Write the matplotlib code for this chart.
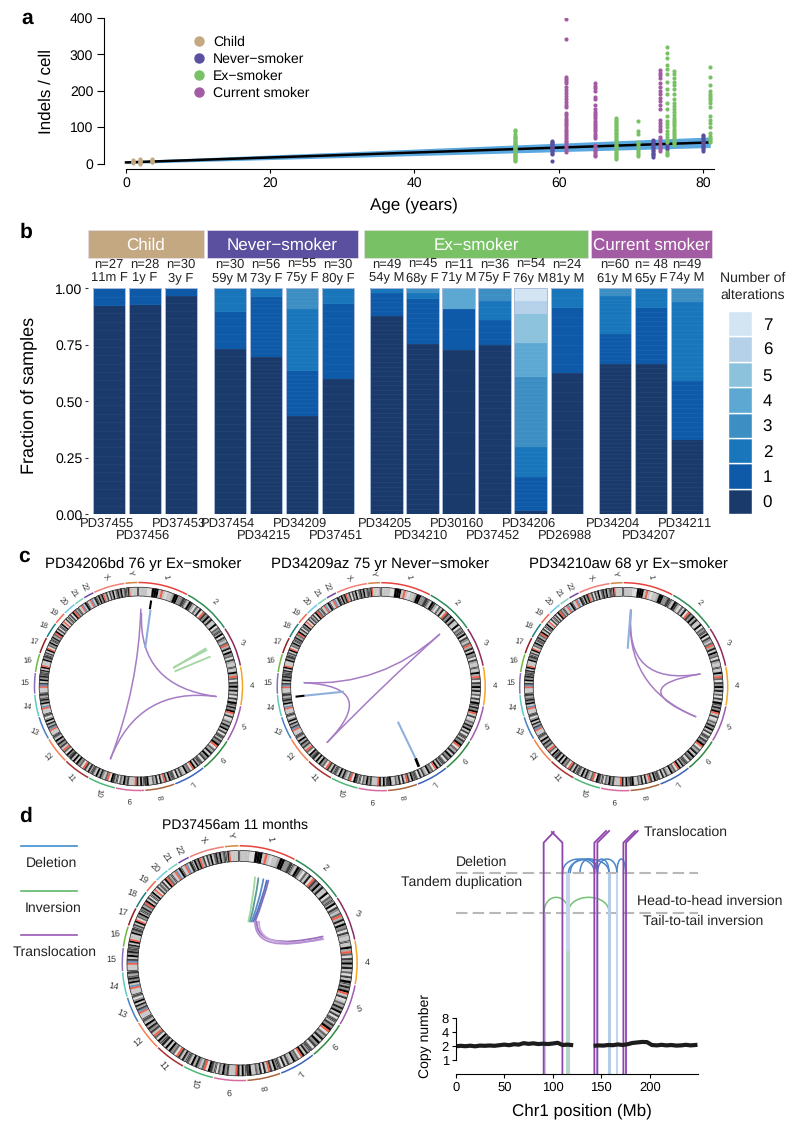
import math
import matplotlib
matplotlib.use("Agg")
import matplotlib.pyplot as plt
from matplotlib.lines import Line2D
from matplotlib.patches import Wedge, Rectangle, PathPatch, Arc
from matplotlib.path import Path
from matplotlib.collections import PatchCollection

plt.rcParams['font.family'] = ['Liberation Sans', 'DejaVu Sans']
plt.rcParams['text.hinting'] = 'none'
plt.rcParams['text.hinting_factor'] = 1
W, H = 800, 1133
fig = plt.figure(figsize=(8, 11.33), dpi=100)

C_CHILD, C_NEVER, C_EX, C_CUR = '#C4A882', '#5B50A0', '#78C265', '#A35BA3'

# ---------- panel a data
child_ages = [0.92, 1.95, 3.6]
child_vals = [[1, 3, 5, 7, 9], [0, 2, 4, 6, 8, 10, 12], [3, 5, 7, 9, 11]]
never_ages = [59, 73, 75, 80]
never_vals = [[7, 26, 30, 33, 36, 39, 42, 45, 48, 51, 54, 57, 60, 63],
              [18, 22, 26, 30, 34, 38, 42, 46, 50, 54, 58, 62, 65],
              [40, 46, 52, 58],
              [35, 39, 43, 47, 51, 55, 59, 63, 67, 71, 75, 79]]
ex_ages = [54, 68, 71, 75, 76, 81]
ex_vals = [[6, 9, 12, 15, 18, 21, 24, 27, 30, 33, 36, 39, 42, 45, 48, 51, 54, 57, 60, 63, 66, 69, 72, 76, 82, 88, 93],
           [12, 16, 20, 24, 28, 32, 36, 40, 44, 48, 52, 56, 60, 64, 68, 72, 76, 80, 84, 88, 92, 96, 100, 104, 108, 112, 116, 120, 125],
           [20, 26, 32, 38, 44, 50, 56, 60, 82, 88, 118],
           [22, 26, 32, 58, 64, 72, 80, 90, 100, 108, 116, 130, 150, 165, 190, 205, 225, 245, 260, 272, 290, 305, 320],
           [50, 55, 60, 66, 72, 78, 84, 90, 96, 102, 108, 114, 120, 126, 132, 142, 150, 158, 165, 178, 190, 205, 215, 225, 235, 245, 255],
           [58, 62, 66, 70, 75, 85, 100, 110, 120, 130, 155, 165, 175, 180, 185, 190, 198, 215, 238, 264]]
cur_ages = [61, 65, 74]
cur_vals = [[32, 36, 45, 52, 58, 63, 66, 72, 78, 84, 90, 96, 102, 108, 114, 120, 126, 132, 140, 156, 162, 170, 178, 186, 194, 202, 210, 220, 226, 232, 238, 343, 397],
            [20, 24, 28, 33, 38, 44, 50, 70, 75, 82, 88, 94, 100, 106, 112, 118, 124, 130, 136, 142, 150, 160, 178, 182, 200, 208, 214, 220],
            [35, 40, 46, 52, 58, 66, 72, 88, 96, 104, 112, 120, 150, 160, 172, 180, 190, 200, 210, 222, 235, 243, 250, 256]]
fit_age = [0, 81]
fit_mid = [3, 58]
fit_low = [0, 44]
fit_high = [7, 73]
a_groups = ['Child', 'Never\u2212smoker', 'Ex\u2212smoker', 'Current smoker']

# ---------- panel b data
facet_names = ['Child', 'Never\u2212smoker', 'Ex\u2212smoker', 'Current smoker']
facet_colors = [C_CHILD, C_NEVER, C_EX, C_CUR]
facet_n = [[27, 28, 30], [30, 56, 55, 30], [49, 45, 11, 36, 54, 24], [60, 48, 49]]
facet_n_text = [['n=27', 'n=28', 'n=30'], ['n=30', 'n=56', 'n=55', 'n=30'],
                ['n=49', 'n=45', 'n=11', 'n=36', 'n=54', 'n=24'], ['n=60', 'n= 48', 'n=49']]
facet_meta = [['11m F', '1y F', '3y F'], ['59y M', '73y F', '75y F', '80y F'],
              ['54y M', '68y F', '71y M', '75y F', '76y M', '81y M'], ['61y M', '65y F', '74y M']]
facet_ids = [['PD37455', 'PD37456', 'PD37453'], ['PD37454', 'PD34215', 'PD34209', 'PD37451'],
             ['PD34205', 'PD34210', 'PD30160', 'PD37452', 'PD34206', 'PD26988'],
             ['PD34204', 'PD34207', 'PD34211']]
# fractions per number of alterations 0,1,2,...
facet_fracs = [
    [[.923, .077], [.926, .074], [.966, .034]],
    [[.732, .165, .103], [.696, .264, .040], [.437, .199, .271, .093], [.600, .332, .068]],
    [[.878, .102, .020], [.754, .199, .025, .022], [.727, .180, 0, 0, .093],
     [.749, .111, .084, .056], [.016, .151, .129, .313, .149, .130, .056, .056], [.625, .289, .086]],
    [[.667, .131, .168, .034], [.667, .247, .086], [.327, .263, .350, .060]],
]
level_colors = ['#1A3A6B', '#0E5AA8', '#1A76BA', '#3D8FC3', '#5CA8D3', '#8CC2DB', '#B5D1E9', '#D3E5F3']
levels = [0, 1, 2, 3, 4, 5, 6, 7]

# ---------- circos data
chrom_names = ['1', '2', '3', '4', '5', '6', '7', '8', '9', '10', '11', '12', '13', '14', '15', '16',
               '17', '18', '19', '20', '21', '22', 'X', 'Y']
chrom_sizes = [249, 243, 198, 191, 181, 171, 159, 146, 141, 135, 135, 133, 115, 107, 102, 90, 81, 78,
               59, 63, 48, 51, 155, 59]
chrom_colors = ['#E8423C', '#2E8B57', '#8E2A5C', '#F5A623', '#A05CB0', '#2E8B3E', '#3A62B8', '#A8643C',
                '#D86CA0', '#4CB878', '#A83030', '#F58050', '#4A80C0', '#60C8C0', '#8A70B8', '#70B840',
                '#902020', '#208080', '#F06850', '#70C8E8', '#80D0B8', '#7848A0', '#F08078', '#D08840']
chrom_rot = [-80, -40, -25, 0, 15, 40, 60, 100, 180, -100, -50, 40, -25, -10, 0, 5, -10, -20, -30, -45,
             -55, -65, -45, -75]
chrom_bands = [
    "2222119992r2122399447",
    "4297316281r74938259164",
    "3917426r38294617352",
    "5293r6174938261729",
    "3849r2715638492716",
    "2749r1638294716",
    "3829r16495372816",
    "4927r2818365297",
    "3928r222749361",
    "3791r62483926",
    "3827r16495928",
    "4916r27483926",
    "555rb73829416",
    "555rb2948637",
    "555rb729486",
    "4829r225947",
    "3729r16493",
    "4836r9271",
    "395r172",
    "2719r63",
    "55rb29",
    "55rb58",
    "2948r3717392684936",
    "38r55555",
]
gray = {'0': '#F2F2F2', '1': '#DDDDDD', '2': '#C4C4C4', '3': '#ABABAB', '4': '#8F8F8F', '5': '#C8C8C8',
        '6': '#666666', '7': '#3E3E3E', '8': '#1E1E1E', '9': '#000000', 'r': '#F0604A', 'b': '#6A90B8'}

c_centers = [(138.5, 686.5), (381.2, 686.7), (623.7, 686.7)]
c_titles = ['PD34206bd 76 yr Ex\u2212smoker', 'PD34209az 75 yr Never\u2212smoker', 'PD34210aw 68 yr Ex\u2212smoker']
c_title_x = [142.7, 380, 628]
# chord endpoints, relative to the circle centre (pixels x3, y down)
PUR, BLU, GRE, BLK = '#A67CC4', '#8FB0DC', '#A3D6A0', '#000000'
c1_curves = [((7, -232), (-84, 217)), ((-84, 217), (233, 30)), ((233, 30), (9, -220))]
c1_lines = [((20, -115), (36, -230), BLU, 1.5), ((34, -232), (38, -258), BLK, 1.5),
            ((104, -55), (203, -115), GRE, 1.3), ((108, -45), (216, -90), GRE, 1.3),
            ((106, -58), (206, -110), GRE, 1.3)]
c2_curves = [((175, -157), (-231, -12)), ((175, -157), (-162, 167)), ((-231, -12), (-162, 167))]
c2_lines = [((-230, 27), (-112, 15), BLU, 1.5), ((-257, 30), (-230, 27), BLK, 1.5),
            ((50, 105), (103, 215), BLU, 1.5), ((103, 215), (113, 240), BLK, 2)]
c3_curves = [((22, -230), (229, -38)), ((22, -230), (216, 90)), ((229, -38), (216, 90))]
c3_lines = [((12, -114), (21, -230), BLU, 1.5)]
all_curves = [c1_curves, c2_curves, c3_curves]
all_lines = [c1_lines, c2_lines, c3_lines]

d_center = (239.7, 963.2)
d_curves = [((46, -258), (26, -125), (40, -190), GRE), ((56, -255), (31, -125), (48, -190), '#5A9A9A'),
            ((71, -252), (36, -125), (60, -190), '#5A8FC8'), ((81, -248), (41, -125), (68, -190), '#5A70C0'),
            ((86, -248), (46, -125), (72, -190), '#7A70C0'),
            ((51, -125), (249, -80), (50, -35), '#9B6FBE'), ((58, -125), (251, -72), (55, -35), '#C8A8DC'),
            ((46, -125), (248, -74), (45, -25), '#B58FD0')]

# ---------- panel d data
cn_left_x = [0, 5, 10, 15, 20, 25, 30, 35, 40, 45, 50, 55, 60, 65, 70, 75, 80, 85, 90, 95, 100, 105, 110, 115, 121]
cn_left_y = [1.97, 2.02, 1.98, 2.03, 1.97, 2.04, 2.02, 2.05, 2.02, 2.08, 2.14, 2.08, 2.18, 2.14, 2.3, 2.22, 2.28, 2.2, 2.24, 2.2, 2.26, 2.34, 2.1, 2.14, 2.08]
cn_right_x = [142, 147, 152, 157, 162, 167, 172, 177, 182, 187, 192, 197, 202, 207, 212, 217, 222, 227, 232, 237, 242, 249]
cn_right_y = [2.02, 2.06, 2.04, 2.1, 2.08, 2.16, 2.1, 2.18, 2.32, 2.38, 2.44, 2.42, 2.1, 2.06, 2.12, 2.06, 2.1, 2.04, 2.06, 2.12, 2.06, 2.12]
d_trans = [90.6, 109.9, 142.8, 145.9, 172.7, 175.4]
del_arcs = [(110, 143), (116, 158), (118, 146), (146, 166), (143, 158), (166, 175), (128, 146)]
inv_arcs = [(91, 116), (116, 158)]


def axpx(l, t, r, b, **kw):
    return fig.add_axes([l / W, 1 - b / H, (r - l) / W, (b - t) / H], **kw)


def T(x, y, s, **kw):
    kw.setdefault('ha', 'center')
    kw.setdefault('va', 'center')
    return fig.text(x / W, 1 - y / H, s, **kw)


for s, x, y in [('a', 27, 18), ('b', 26, 232), ('c', 24, 556), ('d', 26, 816)]:
    T(x, y, s, fontsize=15, fontweight='bold')

# ---------- panel a
a_l, a_r = 103.6, 720
xpp = 80 / 577.0
ypp = 400 / 145.5
ax = axpx(a_l, 18, a_r, 169)
ax.set_xlim((a_l - 126) * xpp, (a_r - 126) * xpp)
ax.set_ylim(-(169 - 163.5) * ypp, 400)
ax.patch.set_alpha(0)
ax.fill_between(fit_age, fit_low, fit_high, color='#5AA8E0', lw=0, zorder=1)
ax.plot(fit_age, fit_mid, color='black', lw=1.8, zorder=2)
for ages, vals, col in [(child_ages, child_vals, C_CHILD), (never_ages, never_vals, C_NEVER),
                        (ex_ages, ex_vals, C_EX), (cur_ages, cur_vals, C_CUR)]:
    for ag, vv in zip(ages, vals):
        ax.scatter([ag] * len(vv), vv, s=9, color=col, lw=0, zorder=3)
for sp in ('top', 'right'):
    ax.spines[sp].set_visible(False)
ax.spines['left'].set_bounds(0, 400)
ax.spines['bottom'].set_bounds(0, 81.5)
ax.set_xticks([0, 20, 40, 60, 80])
ax.set_yticks([0, 100, 200, 300, 400])
ax.tick_params(axis='x', length=2.8, width=0.8, pad=3, labelsize=10)
ax.tick_params(axis='y', length=5, width=0.8, pad=2.5, labelsize=10)
handles = [Line2D([], [], ls='', marker='o', ms=6.5, color=c, label=l)
           for c, l in zip(facet_colors, a_groups)]
ax.legend(handles=handles, loc='upper left', bbox_to_anchor=((185.5 - a_l) / (a_r - a_l), 1 - (36 - 18) / 151),
          frameon=False, prop={'size': 10}, labelspacing=0.28,
          handletextpad=0.0, borderaxespad=0, borderpad=0)
T(46, 91.7, 'Indels / cell', rotation=90, fontsize=12)
T(414, 205, 'Age (years)', fontsize=12.4)

# ---------- panel b
facet_px = [(88, 203.5), (207, 358), (364.3, 587.6), (591, 711.5)]
first_center = [109, 230, 386.5, 615]
pitch = 36.05
ptop, pbot = 288.3, 514.3
for k, (l, r) in enumerate(facet_px):
    ax = axpx(l, ptop, r, pbot)
    ax.patch.set_alpha(0)
    fc = first_center[k]
    ax.set_xlim((l - fc) / pitch, (r - fc) / pitch)
    ax.set_ylim(0, 1)
    for i, fr in enumerate(facet_fracs[k]):
        b = 0
        for lev, f in zip(levels, fr):
            ax.bar(i, f, bottom=b, width=0.9, color=level_colors[lev], lw=0)
            b += f
        ax.bar(i, 1, width=0.9, fill=False, edgecolor='#A8BCDC', lw=0.7)
        n = facet_n[k][i]
        ax.hlines([j / n for j in range(1, n)], i - 0.45, i + 0.45, color='white', lw=0.4, alpha=0.07)
        tr = ax.get_xaxis_transform()
        ax.text(i, (pbot - 264.3) / (pbot - ptop), facet_n_text[k][i], transform=tr, ha='center', va='center', fontsize=9, clip_on=False, color='#222222')
        ax.text(i, (pbot - 277.7) / (pbot - ptop), facet_meta[k][i], transform=tr, ha='center', va='center', fontsize=9, clip_on=False, color='#222222')
        row_y = 524 if i % 2 == 0 else 535.5
        ax.text(i - 0.05, (pbot - row_y) / (pbot - ptop), facet_ids[k][i], transform=tr, ha='center', va='center', fontsize=9.2, color='#222222', clip_on=False)
    for sp in ax.spines.values():
        sp.set_visible(False)
    ax.set_xticks([])
    if k == 0:
        ax.set_yticks([0, .25, .5, .75, 1])
        ax.set_yticklabels(['0.00', '0.25', '0.50', '0.75', '1.00'], fontsize=10)
        ax.tick_params(axis='y', length=2, width=0.8, pad=2, color='#333333')
    else:
        ax.set_yticks([])
    fig.add_artist(Rectangle((l / W, 1 - 258 / H), (r - l) / W, 28 / H, transform=fig.transFigure,
                             facecolor=facet_colors[k], edgecolor='#E6DDE8', lw=0.5, zorder=-1))
    T((l + r) / 2, 245, facet_names[k], color='white', fontsize=12.1)
T(29, 395, 'Fraction of samples', rotation=90, fontsize=12.8)

# legend of panel b
T(753, 278, 'Number of', fontsize=10.2, color='#222222')
T(753, 295, 'alterations', fontsize=10.2, color='#222222')
ax = axpx(728, 311, 751.7, 514.3)
ax.set_xlim(0, 1)
ax.set_ylim(0, 8)
ax.bar([0.5] * 8, [1] * 8, bottom=levels, width=1, color=level_colors, edgecolor='white', lw=1)
for sp in ax.spines.values():
    sp.set_visible(False)
ax.set_xticks([])
ax.yaxis.tick_right()
ax.set_yticks([l + 0.5 for l in levels])
ax.set_yticklabels([str(l) for l in levels], fontsize=12)
ax.tick_params(axis='y', length=0, pad=8)


def circos(cx, cy, R, inner, outer, label_size):
    span = R * 1.25
    ax = axpx(cx - span, cy - span, cx + span, cy + span)
    ax.set_xlim(-span, span)
    ax.set_ylim(-span, span)
    ax.set_aspect('equal')
    ax.axis('off')
    ax.patch.set_alpha(0)
    gap = 0.6
    scale = (360 - gap * len(chrom_sizes)) / sum(chrom_sizes)
    a = 0.0
    patches, cols = [], []
    for name, size, col, rot, bands in zip(chrom_names, chrom_sizes, chrom_colors, chrom_rot, chrom_bands):
        ext = size * scale
        ax.add_patch(Arc((0, 0), 2 * R, 2 * R, theta1=90 - a - ext, theta2=90 - a, color=col, lw=1.1))
        step = ext / len(bands)
        for i, ch in enumerate(bands):
            t2 = 90 - a - i * step
            patches.append(Wedge((0, 0), outer * R, t2 - step, t2, width=(outer - inner) * R))
            cols.append(gray[ch])
        m = math.radians(a + ext / 2)
        ax.text(1.09 * R * math.sin(m), 1.09 * R * math.cos(m), name, rotation=rot, ha='center', va='center',
                fontsize=label_size, color='#333333', rotation_mode='anchor')
        a += ext + gap
    ax.add_collection(PatchCollection(patches, facecolors=cols, edgecolors=cols, linewidths=0.15))
    a = 0.0
    for size in chrom_sizes:
        ext = size * scale
        ax.add_patch(Wedge((0, 0), outer * R, 90 - a - ext, 90 - a, width=(outer - inner) * R,
                           fill=False, edgecolor='#222222', lw=0.5, zorder=3))
        a += ext + gap
    return ax


def curve(ax, p0, p1, ctrl, col, lw):
    path = Path([p0, ctrl, p1], [Path.MOVETO, Path.CURVE3, Path.CURVE3])
    ax.add_patch(PathPatch(path, fill=False, edgecolor=col, lw=lw, capstyle='round', zorder=4))


def zp(p):
    return (p[0] / 3.0, -p[1] / 3.0)


# ---------- panel c
for k, (cx, cy) in enumerate(c_centers):
    T(c_title_x[k], 564, c_titles[k], fontsize=10.65)
    ax = circos(cx, cy, 104, 0.87, 0.955, 6)
    for p0, p1 in all_curves[k]:
        curve(ax, zp(p0), zp(p1), (0, 0), PUR, 1.1)
    for p0, p1, col, lw in all_lines[k]:
        ax.plot(*zip(zp(p0), zp(p1)), color=col, lw=lw, solid_capstyle='butt', zorder=4)

# ---------- panel d circos
T(235, 825.7, 'PD37456am 11 months', fontsize=10.4)
ax = circos(d_center[0], d_center[1], 117.4, 0.867, 0.96, 6.5)
for p0, p1, c, col in d_curves:
    curve(ax, zp(p0), zp(p1), zp(c), col, 1.3)

for y, col, s, yt, xt in [(846, '#3F8FCF', 'Deletion', 863, 51.7), (891, '#5DB86A', 'Inversion', 908, 53.5),
                          (935, '#9B59B6', 'Translocation', 952, 54.5)]:
    fig.add_artist(Line2D([21 / W, 77 / W], [1 - y / H, 1 - y / H], color=col, lw=1.2))
    T(xt, yt, s, fontsize=10, color='#222222')

# ---------- panel d right
xl, xr = 455.7, 697.7
xmax = (xr - xl) / 0.971
ov = axpx(xl, 828, xr, 1074.3)
ov.set_xlim(0, xmax)
ov.set_ylim(1074.3, 828)
ov.axis('off')
ov.patch.set_alpha(0)
for y in (873.3, 912.7):
    ov.hlines(y, 0, xmax, color='#B8B8B8', lw=1.5, linestyles=(0, (5.5, 2.5)))
# light vertical guides
ov.vlines(116, 873.3, 951, color='#C5D5EA', lw=3)
ov.vlines(116, 951, 1074, color='#B5D5C8', lw=3)
ov.vlines(158, 873.3, 1074, color='#B5CCE5', lw=2.2)
ov.vlines(166, 873.3, 1074, color='#C5D5F0', lw=1.5)
ov.vlines(146, 873.3, 1074, color='#C5D5F0', lw=1.5)
ov.vlines(91.5, 912.7, 1074, color='#C8CCD4', lw=1.5)
for a_, b_ in del_arcs:
    top = 873.3 - 19
    path = Path([(a_, 873.3), (a_, top), (b_, top), (b_, 873.3)], [Path.MOVETO, Path.CURVE4, Path.CURVE4, Path.CURVE4])
    ov.add_patch(PathPatch(path, fill=False, edgecolor='#4A86C8', lw=1.1))
for a_, b_ in inv_arcs:
    top = 912.7 - 20.5
    path = Path([(a_, 912.7), (a_, top), (b_, top), (b_, 912.7)], [Path.MOVETO, Path.CURVE4, Path.CURVE4, Path.CURVE4])
    ov.add_patch(PathPatch(path, fill=False, edgecolor='#72C272', lw=1.1))
PL = '#8E44AD'
apex = 842.7
ov.plot([d_trans[0], d_trans[0], 101], [1074, apex, 832], color=PL, lw=1.3, clip_on=False)
ov.plot([d_trans[1], d_trans[1], 99], [1074, apex, 832], color=PL, lw=1.3, clip_on=False)
for xv in d_trans[2:]:
    ov.plot([xv, xv, xv + 12], [1074, apex, 831], color=PL, lw=1.3, clip_on=False)

cn = axpx(xl, 1017.7, xr, 1074.3)
cn.patch.set_alpha(0)
cn.set_xlim(0, xmax)
cn.set_yscale('log', base=2)
cn.set_ylim(0.5, 8)
cn.plot(cn_left_x, cn_left_y, color='#1C1C1C', lw=3, solid_capstyle='butt')
cn.plot(cn_right_x, cn_right_y, color='#1C1C1C', lw=3, solid_capstyle='butt')
for sp in ('top', 'right'):
    cn.spines[sp].set_visible(False)
cn.spines['left'].set_bounds(1, 8)
cn.set_yticks([1, 2, 4, 8])
cn.set_yticklabels(['1', '2', '4', '8'], fontsize=9.5)
cn.minorticks_off()
cn.set_xticks([0, 50, 100, 150, 200])
cn.tick_params(length=3, width=0.8, pad=2, labelsize=9.5)

T(425, 1036, 'Copy number', rotation=90, fontsize=10)
T(581.7, 1110.7, 'Chr1 position (Mb)', fontsize=12.2)
T(644, 832, 'Translocation', ha='left', fontsize=10, color='#222222')
T(456, 862.7, 'Deletion', ha='left', fontsize=10, color='#222222')
T(401, 882, 'Tandem duplication', ha='left', fontsize=10, color='#222222')
T(637, 901, 'Head-to-head inversion', ha='left', fontsize=10, color='#222222')
T(643, 921.7, 'Tail-to-tail inversion', ha='left', fontsize=10, color='#222222')

fig.savefig('out.png', dpi=100)
